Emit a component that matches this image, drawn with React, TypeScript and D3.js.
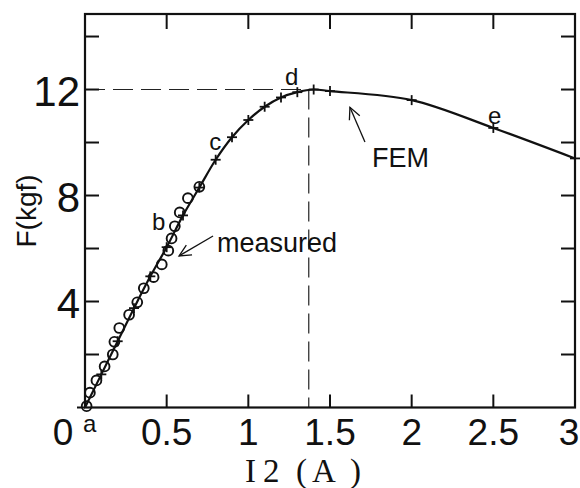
import * as d3 from 'd3';

// FEM calculation (line with + markers)
const femCurrent = [0, 0.1, 0.2, 0.3, 0.4, 0.5, 0.6, 0.7, 0.8, 0.9, 1.0, 1.1, 1.2, 1.3, 1.4, 1.5, 2.0, 2.5, 3.0];
const femForce = [0, 1.25, 2.5, 3.75, 4.95, 6.05, 7.25, 8.3, 9.35, 10.2, 10.85, 11.35, 11.7, 11.9, 12.0, 11.94, 11.6, 10.55, 9.4];

// measured points (open circles)
const measCurrent = [0.01, 0.03, 0.07, 0.12, 0.17, 0.18, 0.21, 0.27, 0.32, 0.36, 0.42, 0.47, 0.51, 0.53, 0.55, 0.58, 0.63, 0.7];
const measForce = [0.05, 0.56, 1.02, 1.55, 2.0, 2.48, 3.0, 3.5, 3.97, 4.5, 4.92, 5.4, 5.92, 6.38, 6.84, 7.36, 7.9, 8.33];

const xTicks = [0, 0.5, 1, 1.5, 2, 2.5, 3];
const xTickLabels = ['0', '0.5', '1', '1.5', '2', '2.5', '3'];
const yTicks = [2, 4, 6, 8, 10, 12, 14];
const yLabelTicks = [4, 8, 12];

// point labels a..e, in data units
const pointLabels = ['a', 'b', 'c', 'd', 'e'];
const pointLabelX = [-0.012, 0.41, 0.76, 1.224, 2.467];
const pointLabelY = [-0.92, 6.7, 9.72, 12.17, 10.7];

const peak = { current: 1.37, force: 12 };

const W = 580;
const H = 488;

export default function App() {
  const x = d3.scaleLinear().domain([0, 3]).range([85, 575]);
  const y = d3.scaleLinear().domain([0, 14.85]).range([407.5, 14]);

  const fem = femCurrent.map((c, i) => [c, femForce[i]] as [number, number]);
  const meas = measCurrent.map((c, i) => [c, measForce[i]] as [number, number]);

  const line = d3
    .line<[number, number]>()
    .x((d) => x(d[0]))
    .y((d) => y(d[1]))
    .curve(d3.curveCatmullRom.alpha(0.5));

  const font = "'Liberation Sans', Arial, Helvetica, sans-serif";

  // arrow helper: tail -> tip, open V head
  const arrow = (x0: number, y0: number, x1: number, y1: number, key: string) => {
    const ang = Math.atan2(y1 - y0, x1 - x0);
    const len = 13;
    const spread = 0.45;
    const a1 = ang + Math.PI - spread;
    const a2 = ang + Math.PI + spread;
    return (
      <g key={key} stroke="#111" strokeWidth={1.3} fill="none">
        <line x1={x0} y1={y0} x2={x1} y2={y1} />
        <path
          d={`M${x1 + len * Math.cos(a1)},${y1 + len * Math.sin(a1)} L${x1},${y1} L${x1 + len * Math.cos(a2)},${y1 + len * Math.sin(a2)}`}
        />
      </g>
    );
  };

  const left = x(0);
  const right = x(3);
  const top = y(14.85);
  const bottom = y(0);

  return (
    <svg
      width={W}
      height={H}
      style={{ position: 'absolute', left: 0, top: 0, background: '#fff' }}
    >
      <rect x={0} y={0} width={W} height={H} fill="#fff" />

      {/* dashed guides to the peak */}
      <g stroke="#222" strokeWidth={1.2} strokeDasharray="20 8" fill="none">
        <line x1={left} y1={y(peak.force)} x2={x(peak.current) + 2} y2={y(peak.force)} />
        <line x1={x(peak.current)} y1={y(peak.force)} x2={x(peak.current)} y2={bottom} />
      </g>

      {/* frame */}
      <rect
        x={left}
        y={top}
        width={right - left}
        height={bottom - top}
        fill="none"
        stroke="#111"
        strokeWidth={2.2}
      />

      {/* ticks */}
      <g stroke="#111" strokeWidth={2}>
        {xTicks.slice(1, -1).map((t) => (
          <g key={'xt' + t}>
            <line x1={x(t)} x2={x(t)} y1={bottom} y2={bottom - 13} />
            <line x1={x(t)} x2={x(t)} y1={top} y2={top + 15} />
          </g>
        ))}
        {yTicks.map((t) => (
          <g key={'yt' + t}>
            <line x1={left} x2={left + 14} y1={y(t)} y2={y(t)} />
            <line x1={right} x2={right - 14} y1={y(t)} y2={y(t)} />
          </g>
        ))}
        <line x1={left - 8} x2={left} y1={bottom} y2={bottom} />
      </g>

      {/* tick labels */}
      <g fontFamily={font} fontSize={37} fill="#111">
        {xTicks.map((t, i) => (
          <text
            key={'xl' + t}
            x={i === 0 ? x(t) - 22 : i === xTicks.length - 1 ? x(t) - 6 : x(t)}
            y={445}
            textAnchor="middle"
          >
            {xTickLabels[i]}
          </text>
        ))}
      </g>
      <g fontFamily={font} fontSize={42} fill="#111">
        {yLabelTicks.map((t) => (
          <text key={'yl' + t} x={80} y={y(t) + 16} textAnchor="end">
            {t}
          </text>
        ))}
      </g>

      {/* axis titles */}
      <text
        transform={`translate(36,211) rotate(-90)`}
        textAnchor="middle"
        fontFamily={font}
        fontSize={28}
        fill="#111"
      >
        F(kgf)
      </text>
      <text
        y={482}
        fontFamily="'Liberation Serif', 'DejaVu Serif', serif"
        fontSize={33}
        fill="#111"
      >
        <tspan x={245}>I</tspan>
        <tspan x={263}>2</tspan>
        <tspan x={296}>(</tspan>
        <tspan x={312}>A</tspan>
        <tspan x={350}>)</tspan>
      </text>

      {/* FEM curve */}
      <path d={line(fem) ?? ''} fill="none" stroke="#111" strokeWidth={2.2} />
      <g stroke="#111" strokeWidth={1.8}>
        {fem.slice(1).map((d, i) => (
          <g key={'fm' + i}>
            <line x1={x(d[0]) - 5} x2={x(d[0]) + 5} y1={y(d[1])} y2={y(d[1])} />
            <line x1={x(d[0])} x2={x(d[0])} y1={y(d[1]) - 5} y2={y(d[1]) + 5} />
          </g>
        ))}
      </g>

      {/* measured circles */}
      <g stroke="#111" strokeWidth={1.9} fill="none">
        {meas.map((d, i) => (
          <circle key={'m' + i} cx={x(d[0])} cy={y(d[1])} r={4.9} />
        ))}
      </g>

      {/* point labels */}
      <g fontFamily={font} fontSize={24} fill="#111">
        {pointLabels.map((l, i) => (
          <text key={l} x={x(pointLabelX[i])} y={y(pointLabelY[i])}>
            {l}
          </text>
        ))}
      </g>

      {/* annotations */}
      {arrow(x(0.784), y(6.47), x(0.576), y(5.72), 'am')}
      {arrow(x(1.714), y(10.02), x(1.622), y(11.33), 'af')}
      <text x={x(0.808)} y={y(5.87)} fontFamily={font} fontSize={27} fill="#111">
        measured
      </text>
      <text x={x(1.757)} y={y(9.07)} fontFamily={font} fontSize={27} fill="#111">
        FEM
      </text>
    </svg>
  );
}
